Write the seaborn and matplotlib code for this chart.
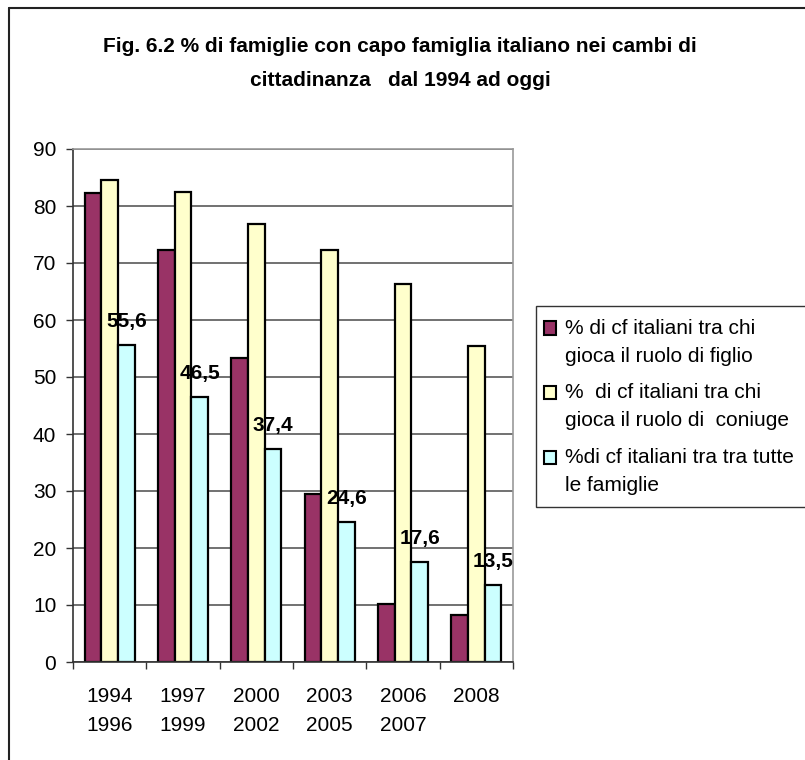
import pandas as pd
import matplotlib
matplotlib.use("Agg")
import matplotlib.pyplot as plt
from matplotlib.patches import Patch, Rectangle
from matplotlib.lines import Line2D
from matplotlib.legend_handler import HandlerPatch
import seaborn as sns

#                 Fig. 6.2 - famiglie con capo famiglia italiano
periods = ["1994\n1996", "1997\n1999", "2000\n2002", "2003\n2005", "2006\n2007", "2008"]
figlio = [82.2, 72.3, 53.3, 29.4, 10.1, 8.3]
coniuge = [84.6, 82.5, 76.8, 72.3, 66.3, 55.4]
tutte = [55.6, 46.5, 37.4, 24.6, 17.6, 13.5]
series_names = ["% di cf italiani tra chi\ngioca il ruolo di figlio",
                "%  di cf italiani tra chi\ngioca il ruolo di  coniuge",
                "%di cf italiani tra tra tutte\nle famiglie"]
colors = ["#993366", "#FFFFCC", "#CCFFFF"]

df = pd.DataFrame({
    "periodo": periods * 3,
    "valore": figlio + coniuge + tutte,
    "serie": [series_names[0]] * 6 + [series_names[1]] * 6 + [series_names[2]] * 6,
})

sns.set_style("white")
plt.rcParams["font.family"] = ["Liberation Sans", "DejaVu Sans"]
plt.rcParams["text.color"] = "black"
plt.rcParams["xtick.color"] = "black"
plt.rcParams["ytick.color"] = "black"
plt.rcParams["axes.labelcolor"] = "black"

fig = plt.figure(figsize=(8.05, 7.6), dpi=100)
ax = fig.add_axes([73 / 805, 1 - 662 / 760, 440 / 805, 513 / 760])

sns.barplot(data=df, x="periodo", y="valore", hue="serie", palette=colors,
            width=0.68, gap=0, edgecolor="black", linewidth=1.6,
            saturation=1, legend=False, ax=ax)

# data labels on the last series only
ax.bar_label(ax.containers[2], labels=[str(v).replace(".", ",") for v in tutte],
             padding=10, fontsize=15, fontweight="bold", color="black")

ax.set_ylim(0, 90)
ax.set_xlim(-0.5, 5.5)
ax.set_yticks(range(0, 91, 10))
ax.yaxis.grid(True, color="#4a4a4a", linewidth=1.1)
ax.set_axisbelow(True)
ax.set_xlabel("")
ax.set_ylabel("")

ax.tick_params(axis="y", length=5, width=1, color="#333333", pad=7, labelsize=15, left=True)
ax.tick_params(axis="x", which="major", length=0, pad=18, labelsize=15)
ax.set_xticks([i - 0.5 for i in range(7)], minor=True)
ax.tick_params(axis="x", which="minor", length=5, width=1, color="#333333", bottom=True)
for t in ax.get_xticklabels():
    t.set_linespacing(1.65)

for s in ["left", "bottom"]:
    ax.spines[s].set_color("#333333")
    ax.spines[s].set_linewidth(1.2)
for s in ["top", "right"]:
    ax.spines[s].set_color("#999999")
    ax.spines[s].set_linewidth(1.2)


# legend squares sit next to the first line of each label
def top_square(legend, orig_handle, xdescent, ydescent, width, height, fontsize):
    return Rectangle((-xdescent - 3.6, -ydescent + 0.68 * fontsize), width, height)


handles = [Patch(facecolor=c, edgecolor="black", linewidth=1.5) for c in colors]
leg = fig.legend(handles, series_names, loc="upper left",
                 bbox_to_anchor=(536 / 805, 1 - 306 / 760), borderaxespad=0,
                 fontsize=15, frameon=True, fancybox=False, edgecolor="black",
                 handlelength=0.6, handleheight=0.6, handletextpad=0.21,
                 labelspacing=0.85, borderpad=0.6,
                 handler_map={Patch: HandlerPatch(patch_func=top_square)})
leg.get_frame().set_linewidth(1.0)
for t in leg.get_texts():
    t.set_linespacing(1.6)

fig.text(0.497, 1 - 63 / 760,
         "Fig. 6.2 % di famiglie con capo famiglia italiano nei cambi di\ncittadinanza   dal 1994 ad oggi",
         ha="center", va="center", fontsize=15, fontweight="bold", linespacing=2.0)

# outer chart frame (only top and left edges fall inside the picture)
fig.add_artist(Line2D([9 / 805, 1], [1 - 8 / 760, 1 - 8 / 760], transform=fig.transFigure,
                      color="#222222", linewidth=1.5))
fig.add_artist(Line2D([9 / 805, 9 / 805], [0, 1 - 8 / 760], transform=fig.transFigure,
                      color="#222222", linewidth=1.5))

plt.savefig("out.png", format="png", dpi=100)
